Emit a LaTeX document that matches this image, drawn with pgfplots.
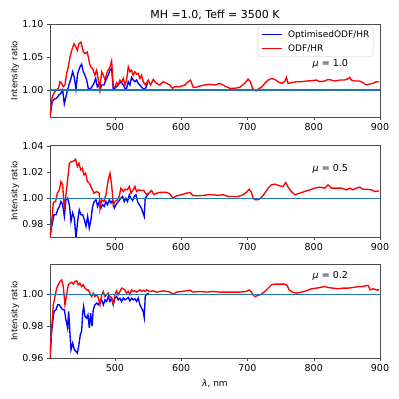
\documentclass[border=0pt]{standalone}
\usepackage{fontspec}
\setmainfont{DejaVu Sans}
\usepackage{pgfplots}
\pgfplotsset{compat=1.18}

\definecolor{mplblue}{RGB}{31,119,180}

% red = ODF/HR, blue = OptimisedODF/HR
\pgfplotsset{
  panel/.style={
    scale only axis, width=330pt,
    xmin=402, xmax=900,
    xtick={500,600,700,800,900},
    xtick pos=bottom, ytick pos=left,
    tick align=outside, major tick length=3pt,
    axis line style={black!70}, every tick/.style={black!70},
    /pgf/number format/assume math mode=true,
    ticklabel style={font=\fontsize{9.5}{11}\selectfont},
    yticklabel style={/pgf/number format/.cd,fixed,fixed zerofill,precision=2},
    xticklabel style={/pgf/number format/.cd,1000 sep={}},
    ylabel={Intensity ratio},
    every axis y label/.style={at={(axis description cs:-0.106,0.5)},rotate=90,anchor=center,font=\fontsize{8.5}{10}\selectfont},
    every axis x label/.style={at={(axis description cs:0.5,0)},anchor=base,yshift=-28pt,font=\fontsize{9}{10}\selectfont},
    every axis title/.style={at={(axis description cs:0.5,1)},anchor=base,yshift=5pt,font=\fontsize{11}{12}\selectfont},
  },
}

\begin{document}
\begin{tikzpicture}
\useasboundingbox (0,0) rectangle (399pt,399pt);

% ---- mu = 1.0
\begin{axis}[panel, at={(50pt,282pt)}, anchor=south west, height=93pt,
  ymin=0.959, ymax=1.10, ytick={1.00,1.05,1.10},
  title={MH =1.0, Teff = 3500 K}]
\addplot[color=blue, line width=1.35pt] coordinates {
(402.0,0.960)(405.5,0.9825)(408.5,0.986)(412.1,0.9875)(415.6,0.9925)(418.6,0.995)
(421.1,1.000)(423.6,0.979)(426.1,0.990)(428.6,1.000)(431.2,1.010)(433.7,1.0175)
(436.2,1.0275)(438.7,1.019)(441.2,1.001)(443.7,1.025)(447.2,1.035)(449.7,1.039)
(452.3,1.0275)(454.8,1.0225)(457.3,1.015)(459.8,1.0025)(462.3,1.001)(464.8,1.004)
(468.3,1.010)(470.9,1.0175)(473.4,1.005)(475.9,1.010)(477.4,0.999)(479.9,1.0075)
(483.4,1.0075)(486.4,1.015)(489.9,1.0225)(492.5,1.030)(495.0,1.0325)(497.5,1.000)
(500.0,1.0025)(502.5,1.005)(505.0,1.0075)(507.5,1.0125)(510.1,1.010)(512.6,1.0075)
(515.1,1.0025)(517.6,1.0025)(520.1,1.0125)(522.6,1.0075)(525.1,1.019)(527.6,1.015)
(530.2,1.0125)(532.7,1.015)(535.2,1.010)(537.7,1.0075)(540.2,1.004)(543.7,1.001)
(546.2,1.0025)(547.7,1.006)(550.3,1.015)};
\addplot[color=red, line width=1.35pt] coordinates {
(402.0,0.960)(405.5,0.990)(409.5,0.9975)(412.1,1.000)(414.6,1.0025)(417.1,1.0125)
(419.6,1.010)(422.1,1.005)(424.6,1.0075)(427.1,1.025)(429.6,1.035)(432.2,1.050)
(434.7,1.060)(438.2,1.070)(441.2,1.065)(443.2,1.060)(445.7,1.070)(448.7,1.0725)
(452.3,1.0575)(454.8,1.055)(458.3,1.0575)(461.3,1.0425)(463.3,1.035)(466.3,1.0325)
(469.8,1.0225)(472.4,1.030)(474.9,1.015)(477.4,1.001)(479.9,1.0275)(482.4,1.0225)
(484.9,1.015)(488.4,1.0275)(492.5,1.035)(495.0,1.044)(497.5,1.005)(500.0,1.004)
(502.5,1.011)(505.0,1.0075)(507.5,1.015)(510.1,1.011)(512.6,1.0175)(515.1,1.0075)
(517.6,1.015)(520.1,1.035)(522.6,1.0275)(525.1,1.030)(527.6,1.0225)(530.2,1.0275)
(532.7,1.024)(535.2,1.025)(537.7,1.0175)(540.2,1.0225)(542.7,1.0125)(546.2,1.0075)
(550.3,1.015)(553.8,1.0075)(557.8,1.016)(560.3,1.0125)(562.8,1.010)(567.8,1.0075)
(572.9,1.0125)(577.9,1.010)(582.9,1.0075)(586.9,1.0025)(590.5,1.005)(598.0,1.005)
(605.5,1.0075)(610.6,1.0125)(614.1,1.015)(618.1,1.004)(623.1,1.004)(628.1,1.006)
(635.7,1.0075)(643.2,1.0085)(650.8,1.0075)(658.3,1.010)(665.8,1.006)(673.4,1.0025)
(680.9,1.0025)(688.4,1.004)(696.0,1.010)(701.0,1.0165)(704.5,1.0125)(707.5,1.0025)
(711.1,0.999)(713.6,0.9985)(717.6,1.0025)(721.1,1.004)(726.1,1.010)(731.2,1.015)
(736.2,1.0175)(741.2,1.016)(746.2,1.0125)(751.3,1.010)(756.3,1.0125)(758.8,1.019)
(761.3,1.010)(766.3,1.011)(773.9,1.0125)(781.4,1.0125)(788.9,1.0135)(796.5,1.014)
(804.0,1.015)(809.0,1.0125)(816.6,1.0135)(821.6,1.016)(826.6,1.015)(831.7,1.0135)
(839.2,1.015)(846.7,1.015)(851.8,1.017)(854.3,1.019)(856.8,1.015)(861.8,1.0135)
(869.3,1.0135)(874.4,1.011)(879.4,1.0075)(884.4,1.009)(889.4,1.010)(894.5,1.0125)
(898.5,1.0125)};
\addplot[color=mplblue, line width=1.2pt] coordinates {(402,1.0)(900,1.0)};
% legend box, keys and labels
\path[draw=black!20, fill=white, rounded corners=2pt]
  (axis description cs:0.630,0.650) rectangle (axis description cs:0.979,0.968);
\draw[blue, line width=1.35pt] (axis description cs:0.642,0.885) -- (axis description cs:0.703,0.885);
\draw[red, line width=1.35pt] (axis description cs:0.642,0.740) -- (axis description cs:0.703,0.740);
\node[anchor=west, inner sep=0pt, font=\fontsize{9}{10}\selectfont] at (axis description cs:0.721,0.885) {OptimisedODF/HR};
\node[anchor=west, inner sep=0pt, font=\fontsize{9}{10}\selectfont] at (axis description cs:0.721,0.740) {ODF/HR};
\node[font=\fontsize{9.5}{11}\selectfont] at (axis cs:825,1.039) {{\itshape μ} = 1.0};
\end{axis}

% ---- mu = 0.5
\begin{axis}[panel, at={(50pt,162pt)}, anchor=south west, height=92pt,
  ymin=0.970, ymax=1.041, ytick={0.98,1.00,1.02,1.04}]
\addplot[color=blue, line width=1.35pt] coordinates {
(402.0,0.970)(404.5,0.9782)(408.0,0.9872)(411.1,0.9872)(413.6,0.9910)(416.1,0.9936)
(418.6,0.9974)(421.1,0.9949)(423.6,0.9859)(426.1,0.9987)(428.6,1.0000)(431.2,0.9949)
(433.7,0.9821)(436.2,0.9885)(438.7,0.9846)(441.2,0.9692)(443.7,0.9821)(446.2,0.9910)
(448.7,0.9872)(451.3,0.9872)(453.8,0.9833)(456.3,0.9782)(458.8,0.9859)(461.3,0.9769)
(463.8,0.9833)(466.3,0.9936)(468.8,0.9974)(471.4,0.9987)(473.9,0.9936)(476.4,0.9974)
(478.9,0.9923)(481.4,0.9949)(483.9,0.9936)(486.4,0.9974)(488.9,0.9949)(491.5,0.9987)
(494.0,0.9962)(496.5,0.9982)(499.0,0.9923)(501.5,0.9949)(504.0,0.9967)(506.5,0.9982)
(509.0,1.0000)(511.6,1.0013)(514.1,0.9974)(516.6,1.0000)(519.1,0.9974)(521.6,1.0026)
(524.1,1.0000)(526.6,0.9982)(529.1,1.0013)(531.7,1.0026)(534.2,0.9974)(536.7,0.9949)
(539.2,0.9931)(541.7,0.9897)(544.2,0.9859)(545.7,1.0000)(547.7,1.0013)(551.3,1.0038)};
\addplot[color=red, line width=1.35pt] coordinates {
(402.0,0.970)(404.5,0.9808)(407.0,0.9967)(410.5,0.9974)(413.1,1.0038)(416.1,1.0064)
(418.6,1.0128)(421.1,1.0103)(423.6,0.9910)(426.1,1.0026)(428.6,1.0141)(431.2,1.0269)
(434.7,1.0282)(438.2,1.0287)(440.7,1.0300)(443.2,1.0244)(445.7,1.0269)(448.2,1.0218)
(450.8,1.0231)(453.3,1.0179)(455.8,1.0192)(458.3,1.0128)(461.3,1.0115)(464.8,1.0077)
(468.3,1.0038)(472.4,1.0051)(476.4,1.0038)(477.4,0.9918)(479.9,0.9987)(483.4,0.9974)
(486.4,1.0026)(489.9,1.0141)(492.5,1.0192)(495.0,1.0103)(497.5,0.9949)(500.0,0.9974)
(503.5,0.9987)(506.5,1.0013)(509.0,1.0077)(512.6,1.0051)(515.1,1.0069)(518.6,1.0064)
(521.6,1.0090)(524.1,1.0038)(527.6,1.0064)(530.2,1.0090)(532.7,1.0051)(536.2,1.0064)
(540.2,1.0059)(543.7,1.0059)(547.7,1.0026)(551.3,1.0038)(555.3,1.0059)(558.8,1.0026)
(562.8,1.0038)(567.8,1.0044)(572.9,1.0044)(577.9,1.0044)(582.9,1.0033)(587.9,1.0000)
(593.0,1.0018)(600.5,1.0026)(608.0,1.0038)(613.1,1.0044)(618.1,1.0018)(625.6,1.0018)
(633.2,1.0021)(640.7,1.0026)(648.2,1.0026)(655.8,1.0021)(663.3,1.0026)(670.9,1.0013)
(678.4,1.0013)(685.9,1.0013)(693.5,1.0026)(698.5,1.0046)(702.5,1.0069)(706.0,1.0044)
(708.5,1.0000)(711.1,0.9987)(716.1,0.9987)(721.1,1.0005)(726.1,1.0038)(731.2,1.0077)
(736.2,1.0103)(741.2,1.0108)(748.7,1.0095)(753.8,1.0090)(757.8,1.0121)(761.3,1.0085)
(766.3,1.0051)(771.4,1.0026)(778.9,1.0038)(786.4,1.0051)(793.9,1.0064)(801.5,1.0077)
(809.0,1.0085)(816.6,1.0077)(821.6,1.0103)(826.6,1.0077)(834.2,1.0077)(841.7,1.0077)
(849.2,1.0064)(854.3,1.0077)(859.3,1.0064)(864.3,1.0077)(869.3,1.0085)(874.4,1.0069)
(879.4,1.0069)(886.9,1.0064)(891.9,1.0051)(898.5,1.0056)};
\addplot[color=mplblue, line width=1.2pt] coordinates {(402,1.0)(900,1.0)};
\node[font=\fontsize{9.5}{11}\selectfont] at (axis cs:825,1.0225) {{\itshape μ} = 0.5};
\end{axis}

% ---- mu = 0.2
\begin{axis}[panel, at={(50pt,41pt)}, anchor=south west, height=94pt,
  ymin=0.96, ymax=1.0192, ytick={0.96,0.98,1.00},
  xlabel={{\itshape λ}, nm}]
\addplot[color=blue, line width=1.35pt] coordinates {
(402.0,0.9600)(404.5,0.9768)(408.0,0.9893)(411.1,0.9904)(413.6,0.9935)(416.1,0.9935)
(418.6,0.9918)(421.1,0.9904)(423.6,0.9904)(426.1,0.9841)(428.6,0.9788)(430.2,0.9893)
(432.2,0.9747)(433.7,0.9652)(436.2,0.9694)(438.7,0.9652)(441.2,0.9642)(443.2,0.9631)
(445.7,0.9684)(447.7,0.9747)(449.7,0.9768)(451.3,0.9883)(452.8,0.9925)(454.8,0.9862)
(457.3,0.9851)(459.3,0.9872)(461.3,0.9788)(463.3,0.9883)(465.3,0.9799)(467.3,0.9904)
(469.8,0.9935)(472.4,0.9946)(474.9,0.9935)(477.4,0.9956)(479.9,0.9966)(482.4,0.9935)
(484.9,0.9966)(487.4,0.9956)(489.9,0.9987)(492.5,0.9956)(495.0,0.9977)(497.5,0.9935)
(500.0,0.9977)(502.5,0.9987)(505.0,0.9966)(507.5,0.9977)(510.1,0.9956)(512.6,0.9977)
(515.1,0.9966)(517.6,0.9973)(520.1,0.9981)(522.6,0.9960)(525.1,0.9977)(527.6,0.9966)
(530.2,0.9973)(532.7,0.9956)(535.2,0.9977)(537.7,0.9935)(540.2,0.9914)(542.7,0.9893)
(544.2,0.9855)(545.7,0.9987)(547.7,1.0002)(551.3,1.0008)};
\addplot[color=red, line width=1.35pt] coordinates {
(402.0,0.9600)(404.5,0.9788)(407.0,0.9935)(409.5,0.9987)(412.1,1.0040)(414.6,1.0061)
(417.1,1.0082)(419.6,1.0092)(422.1,1.0050)(424.6,0.9935)(427.1,0.9998)(429.6,1.0061)
(432.2,1.0071)(434.7,1.0077)(437.2,1.0065)(439.7,1.0082)(442.2,1.0086)(444.7,1.0061)
(447.2,1.0071)(449.7,1.0050)(452.3,1.0061)(454.8,1.0040)(457.3,1.0029)(459.8,1.0029)
(462.3,1.0008)(464.8,0.9987)(467.3,1.0008)(469.8,0.9987)(472.4,0.9998)(474.9,0.9981)
(477.4,0.9935)(479.9,0.9998)(482.4,1.0019)(484.9,0.9987)(487.4,0.9998)(489.9,1.0008)
(492.5,0.9987)(495.0,0.9977)(497.5,0.9939)(500.0,0.9998)(502.5,1.0023)(505.0,0.9998)
(507.5,1.0019)(510.1,1.0040)(512.6,1.0036)(515.1,1.0029)(517.6,1.0008)(520.1,1.0019)
(522.6,0.9998)(525.1,1.0029)(527.6,1.0019)(530.2,1.0023)(532.7,1.0015)(535.2,1.0023)
(537.7,1.0029)(540.2,1.0019)(542.7,1.0027)(545.2,1.0019)(547.7,1.0029)(552.8,1.0019)
(557.8,1.0023)(562.8,1.0015)(567.8,1.0019)(572.9,1.0023)(577.9,1.0019)(582.9,1.0015)
(587.9,1.0002)(593.0,1.0015)(600.5,1.0019)(608.0,1.0023)(613.1,1.0027)(618.1,1.0015)
(628.1,1.0019)(638.2,1.0015)(648.2,1.0019)(658.3,1.0015)(668.3,1.0015)(678.4,1.0015)
(688.4,1.0015)(698.5,1.0019)(702.5,1.0029)(706.0,1.0015)(708.5,0.9998)(711.1,0.9987)
(716.1,0.9994)(721.1,1.0002)(726.1,1.0019)(731.2,1.0040)(736.2,1.0061)(741.2,1.0065)
(748.7,1.0065)(756.3,1.0065)(759.8,1.0057)(762.8,1.0029)(767.8,1.0015)(773.9,1.0008)
(781.4,1.0015)(788.9,1.0023)(796.5,1.0036)(804.0,1.0040)(811.6,1.0046)(816.6,1.0050)
(821.6,1.0044)(829.1,1.0040)(836.7,1.0036)(844.2,1.0040)(851.8,1.0040)(859.3,1.0044)
(866.8,1.0050)(874.4,1.0050)(879.4,1.0057)(881.9,1.0057)(885.4,1.0029)(889.4,1.0036)
(894.5,1.0029)(898.5,1.0029)};
\addplot[color=mplblue, line width=1.2pt] coordinates {(402,1.0)(900,1.0)};
\node[font=\fontsize{9.5}{11}\selectfont] at (axis cs:825,1.0118) {{\itshape μ} = 0.2};
\end{axis}
\end{tikzpicture}
\end{document}
